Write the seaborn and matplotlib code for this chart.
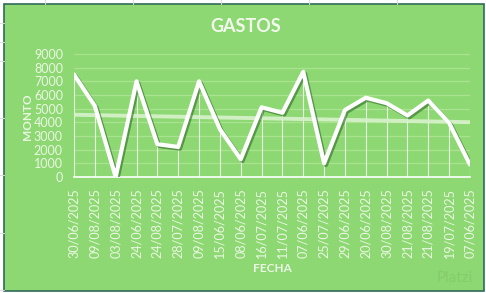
import numpy as np
import pandas as pd
import seaborn as sns
import matplotlib
matplotlib.use("Agg")
import matplotlib.pyplot as plt
from matplotlib.patches import Rectangle
from matplotlib.lines import Line2D
import matplotlib.patheffects as pe

fechas = ["30/06/2025", "09/08/2025", "03/08/2025", "24/06/2025", "24/08/2025",
          "28/07/2025", "09/08/2025", "15/06/2025", "08/06/2025", "16/07/2025",
          "11/07/2025", "07/06/2025", "25/07/2025", "29/06/2025", "20/06/2025",
          "30/08/2025", "21/08/2025", "21/08/2025", "19/07/2025", "07/06/2025"]
montos = [7500, 5200, 0, 7000, 2400, 2200, 7000, 3500, 1300, 5100,
          4700, 7700, 1000, 4900, 5800, 5400, 4500, 5600, 3950, 900]
yticks = [0, 1000, 2000, 3000, 4000, 5000, 6000, 7000, 8000, 9000]

df = pd.DataFrame({"pos": np.arange(len(fechas)), "fecha": fechas, "monto": montos})

sns.set_theme(style="white")
plt.rcParams["font.family"] = ["Lato", "DejaVu Sans"]

W, H = 486, 293
fig = plt.figure(figsize=(W / 100, H / 100), dpi=100)
fig.patch.set_facecolor("white")

# faint spreadsheet grid outside the chart
for x in [45, 133, 221, 309, 397]:
    fig.add_artist(Line2D([x / W, x / W], [1 - 4 / H, 1], color="#d9d9d9", lw=0.8))
for y in [23, 42, 61, 118, 175, 233, 290]:
    fig.add_artist(Line2D([0, 4 / W], [1 - y / H, 1 - y / H], color="#d9d9d9", lw=0.8))

green = "#8ED873"
fig.add_artist(Rectangle((4 / W, 1 - 291 / H), 480 / W, 287 / H,
                         facecolor=green, edgecolor="#2E6B57", lw=1.2,
                         transform=fig.transFigure, zorder=0))

ax = fig.add_axes([74 / W, 1 - 177 / H, (470 - 74) / W, (177 - 54) / H])
ax.set_facecolor("none")
ax.patch.set_alpha(0)

light = "#EAF7E3"

# drop lines
ax.vlines(df["pos"], 0, df["monto"], color="white", lw=0.8, alpha=0.8, zorder=2)

# trend line
sns.regplot(data=df, x="pos", y="monto", ax=ax, ci=None, scatter=False,
            line_kws=dict(color="#D8F2CC", lw=2.8, alpha=0.9, zorder=3))

# main line with shadow
sns.lineplot(data=df, x="pos", y="monto", ax=ax, color="white", lw=3.0, zorder=4,
             path_effects=[pe.SimpleLineShadow(offset=(1.3, -1.3), shadow_color="#2F6B2A", alpha=0.6),
                           pe.Normal()])

ax.set_xlim(0, len(fechas) - 1)
ax.set_ylim(0, 9000)
ax.set_yticks(yticks)
ax.set_yticklabels([str(v) for v in yticks])
ax.set_xticks(df["pos"])
ax.set_xticklabels(fechas, rotation=90)
ax.tick_params(axis="both", length=0, colors=light)
ax.tick_params(axis="y", pad=8, labelsize=9)
ax.tick_params(axis="x", pad=8, labelsize=9.1)
ax.grid(axis="y", color="#A9E38F", lw=0.9)
ax.grid(axis="x", visible=False)
ax.set_axisbelow(True)
for s in ["top", "right", "left"]:
    ax.spines[s].set_visible(False)
ax.spines["bottom"].set_color("white")
ax.spines["bottom"].set_linewidth(1.2)
ax.set_xlabel("")
ax.set_ylabel("")

fig.text(0.505, 1 - 27 / H, "GASTOS", ha="center", va="center", color="#F2FAEE",
         fontsize=13, fontweight="bold")
fig.text(28 / W, 1 - 117 / H, "MONTO", ha="center", va="center", rotation=90,
         color=light, fontsize=8.5, fontweight="bold")
fig.text(272 / W, 1 - 269 / H, "FECHA", ha="center", va="center",
         color=light, fontsize=8.5, fontweight="bold")
fig.text(455 / W, 1 - 278 / H, "Platzi", ha="center", va="center",
         color="#7FC466", fontsize=11, alpha=0.6)

fig.savefig("out.png", dpi=100, facecolor=fig.get_facecolor())
